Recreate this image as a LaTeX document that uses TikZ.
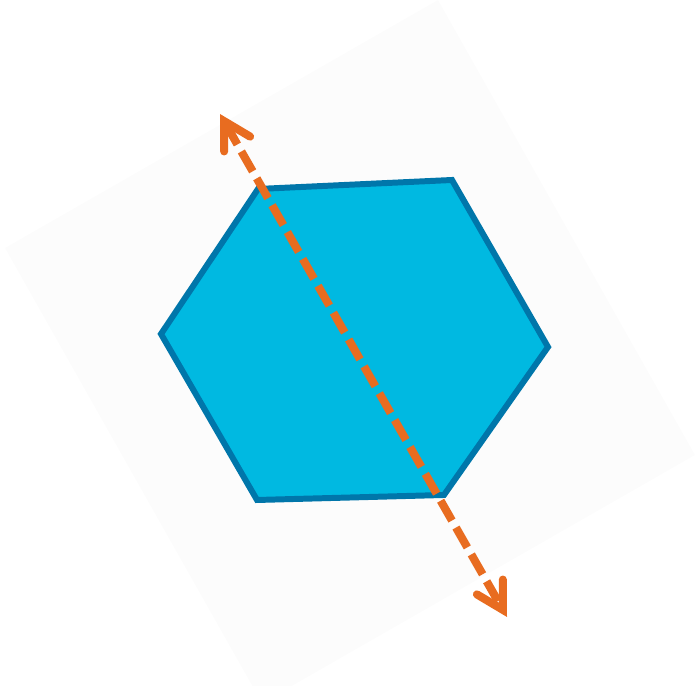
\documentclass[tikz,border=0pt]{standalone}
\usepackage{xcolor}
\usepackage{tikz}
\usetikzlibrary{arrows.meta}
\definecolor{figback}{RGB}{252,252,252}
\definecolor{hexfill}{RGB}{0,185,225}
\definecolor{hexline}{RGB}{0,118,170}
\definecolor{axisline}{RGB}{232,108,32}
\tikzset{
  hexa/.style ={fill=hexfill, draw=hexline, line width=3.4pt, line join=miter},
  axis/.style ={draw=axisline, line width=4.6pt, dash pattern=on 13pt off 4.6pt,
    {Straight Barb[length=15pt,width=17pt,line cap=round,line join=miter]}-{Straight Barb[length=15pt,width=17pt,line cap=round,line join=miter]}},
}
\begin{document}
\begin{tikzpicture}[scale=1]
  \useasboundingbox (0,0) rectangle (13.96,13.72);
  \clip (0,0) rectangle (13.96,13.72);
  \fill[figback] (8.76,13.72) -- (0.10,8.76) -- (5.24,-0.34) -- (13.90,4.62) -- cycle;
  % hexagon
  \draw[hexa] (5.16,9.94) -- (9.04,10.12) -- (10.96,6.78) -- (8.88,3.82) -- (5.14,3.72) -- (3.22,7.04) -- cycle;
  % symmetry axis
  \coordinate (top) at (4.40,11.44);
  \coordinate (bot) at (10.14,1.38);
  \draw[axis] (top) -- (bot);
\end{tikzpicture}
\end{document}
